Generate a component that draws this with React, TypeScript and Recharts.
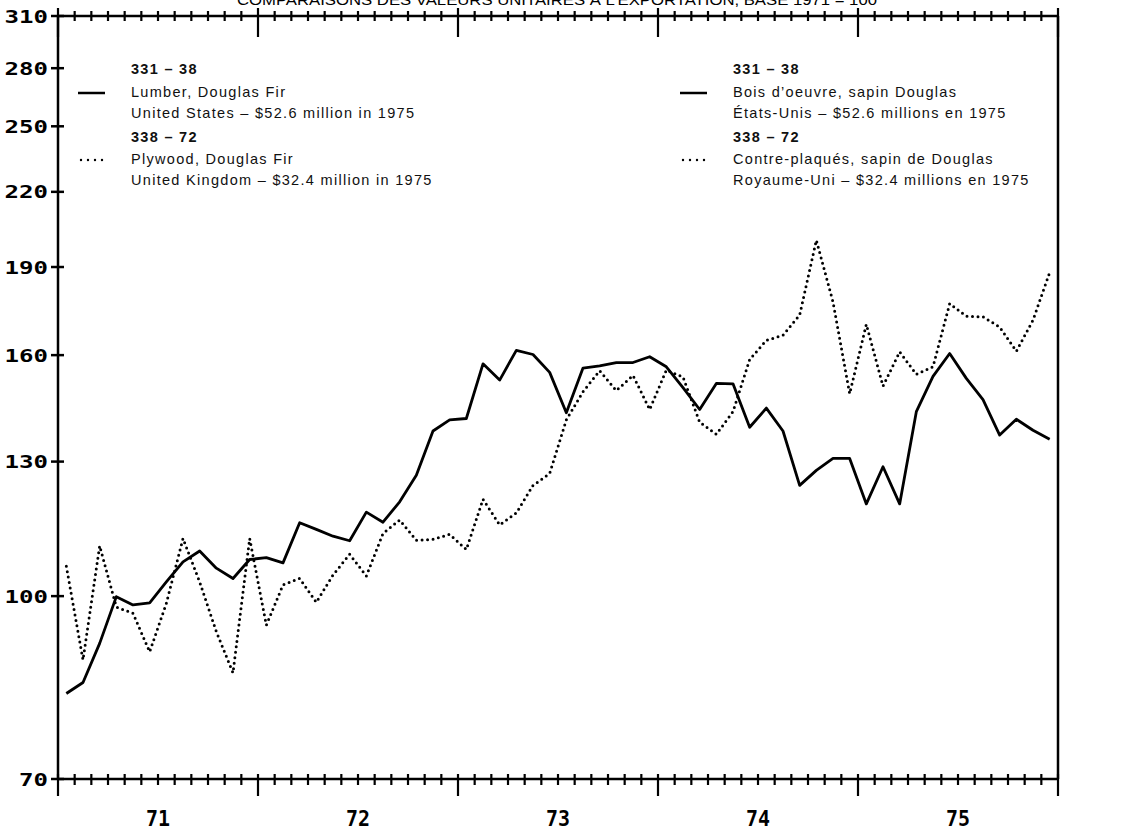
import { LineChart, Line, XAxis, YAxis } from 'recharts';

// monthly export unit values, index 1971 = 100 (Jan 1971 .. Dec 1975)
const lumber = [
  82.7, 84.5, 91.2, 99.9, 98.3, 98.7, 102.8, 106.9, 109.2, 105.6,
  103.5, 107.4, 107.8, 106.7, 115.4, 113.9, 112.4, 111.4, 117.8, 115.5,
  120.2, 126.6, 138.0, 141.0, 141.4, 157.3, 152.4, 161.5, 160.2, 154.7,
  143.0, 156.0, 156.7, 157.7, 157.7, 159.5, 156.4, 150.2, 143.9, 151.4,
  151.3, 139.0, 144.3, 138.0, 124.1, 127.8, 130.8, 130.8, 119.7, 128.7,
  119.7, 143.3, 153.5, 160.5, 152.9, 146.7, 136.9, 141.2, 138.2, 135.8,
];

const plywood = [
  106.0, 88.3, 110.3, 97.9, 96.7, 89.7, 98.6, 111.9, 102.8, 93.3,
  86.1, 111.9, 94.5, 102.2, 103.5, 98.8, 104.2, 108.5, 104.0, 113.0,
  116.0, 111.5, 111.7, 112.8, 109.5, 120.8, 114.9, 117.6, 124.1, 127.0,
  141.0, 149.0, 155.2, 149.3, 153.8, 143.9, 155.4, 153.3, 140.4, 137.1,
  143.3, 158.6, 164.7, 166.3, 173.0, 200.2, 177.5, 148.4, 169.9, 150.6,
  161.0, 154.1, 156.4, 176.9, 172.6, 172.4, 169.0, 161.2, 171.3, 188.0,
];

const yearLabels = ['71', '72', '73', '74', '75'];
const valueTicks = [70, 100, 130, 160, 190, 220, 250, 280, 310];
const monthTicks = Array.from({ length: 61 }, (_, i) => i);

// points sit in the middle of each month
const data = lumber.map((v, i) => ({ month: i + 0.5, lumber: v, plywood: plywood[i] }));

const AXIS_FONT = '"DejaVu Sans Mono", monospace';
const TEXT_FONT = '"Liberation Sans", Arial, sans-serif';
const INK = '#000';

const LeftTick = ({ x, y, payload }: any) => {
  const label = String(payload.value);
  return (
    <g>
      <line x1={x - 7} x2={x + 6} y1={y} y2={y} stroke={INK} strokeWidth={2.5} />
      <text
        x={x - 10}
        y={y + 6.5}
        textAnchor="end"
        fontFamily={AXIS_FONT}
        fontWeight="bold"
        fontSize={18}
        textLength={label.length * 14.5}
        lengthAdjust="spacingAndGlyphs"
        fill={INK}
      >
        {label}
      </text>
    </g>
  );
};

const RightTick = ({ x, y, payload }: any) => {
  const label = String(payload.value);
  return (
    <g>
      <line x1={x - 6} x2={x + 7} y1={y} y2={y} stroke={INK} strokeWidth={2.5} />
      <text
        x={x + 22}
        y={y + 6.5}
        textAnchor="start"
        fontFamily={AXIS_FONT}
        fontWeight="bold"
        fontSize={18}
        textLength={label.length * 14}
        lengthAdjust="spacingAndGlyphs"
        fill={INK}
      >
        {label}
      </text>
    </g>
  );
};

const BottomTick = ({ x, y, payload }: any) => {
  const m = payload.value as number;
  const major = m % 12 === 0;
  const year = m % 12 === 6 ? yearLabels[(m - 6) / 12] : null;
  return (
    <g>
      <line x1={x} x2={x} y1={y - 5} y2={y + (major ? 17 : 6)} stroke={INK} strokeWidth={2.2} />
      {year && (
        <text
          x={x}
          y={y + 47}
          textAnchor="middle"
          fontFamily={AXIS_FONT}
          fontWeight="bold"
          fontSize={21}
          textLength={24}
          lengthAdjust="spacingAndGlyphs"
          fill={INK}
        >
          {year}
        </text>
      )}
    </g>
  );
};

const TopTick = ({ x, y, payload }: any) => {
  const m = payload.value as number;
  const major = m % 12 === 0;
  return <line x1={x} x2={x} y1={y - (major ? 8 : 5)} y2={y + (major ? 21 : 5)} stroke={INK} strokeWidth={2.2} />;
};

const legendLeft = [
  { text: '331 – 38', bold: true, y: 69 },
  { text: 'Lumber, Douglas Fir', bold: false, y: 92 },
  { text: 'United States – $52.6 million in 1975', bold: false, y: 113 },
  { text: '338 – 72', bold: true, y: 137 },
  { text: 'Plywood, Douglas Fir', bold: false, y: 159 },
  { text: 'United Kingdom – $32.4 million in 1975', bold: false, y: 180 },
];

const legendRight = [
  { text: '331 – 38', bold: true, y: 69 },
  { text: 'Bois d’oeuvre, sapin Douglas', bold: false, y: 92 },
  { text: 'États-Unis – $52.6 millions en 1975', bold: false, y: 113 },
  { text: '338 – 72', bold: true, y: 137 },
  { text: 'Contre-plaqués, sapin de Douglas', bold: false, y: 159 },
  { text: 'Royaume-Uni – $32.4 millions en 1975', bold: false, y: 180 },
];

const LegendBlock = ({ x, rows }: { x: number; rows: typeof legendLeft }) => (
  <g>
    <line x1={x - 53} x2={x - 26} y1={93} y2={93} stroke={INK} strokeWidth={2.5} />
    <line
      x1={x - 50}
      x2={x - 26}
      y1={160}
      y2={160}
      stroke={INK}
      strokeWidth={2.4}
      strokeDasharray="0 7"
      strokeLinecap="round"
    />
    {rows.map((r) => (
      <text
        key={r.text}
        x={x}
        y={r.y + 5}
        fontFamily={TEXT_FONT}
        fontSize={14.5}
        fontWeight={r.bold ? 'bold' : 'normal'}
        letterSpacing={1.3}
        fill="#111"
      >
        {r.text}
      </text>
    ))}
  </g>
);

export default function App() {
  return (
    <div style={{ position: 'absolute', left: 0, top: 0, width: 1132, height: 834, background: '#fff' }}>
      <LineChart width={1132} height={834} data={data} margin={{ top: 0, right: 0, bottom: 0, left: 0 }}>
        <XAxis
          xAxisId="bottom"
          dataKey="month"
          type="number"
          domain={[0, 60]}
          ticks={monthTicks}
          interval={0}
          height={55}
          tickSize={0}
          tickMargin={0}
          tickLine={false}
          axisLine={{ stroke: INK, strokeWidth: 2.5 }}
          tick={<BottomTick />}
        />
        <XAxis
          xAxisId="top"
          orientation="top"
          dataKey="month"
          type="number"
          domain={[0, 60]}
          ticks={monthTicks}
          interval={0}
          height={16}
          tickSize={0}
          tickMargin={0}
          tickLine={false}
          axisLine={{ stroke: INK, strokeWidth: 2.5 }}
          tick={<TopTick />}
        />
        <YAxis
          yAxisId="left"
          type="number"
          scale="log"
          domain={[70, 310]}
          ticks={valueTicks}
          interval={0}
          width={58}
          tickSize={0}
          tickMargin={0}
          tickLine={false}
          axisLine={{ stroke: INK, strokeWidth: 2.5 }}
          tick={<LeftTick />}
        />
        <YAxis
          yAxisId="right"
          orientation="right"
          type="number"
          scale="log"
          domain={[70, 310]}
          ticks={valueTicks}
          interval={0}
          width={74}
          tickSize={0}
          tickMargin={0}
          tickLine={false}
          axisLine={{ stroke: INK, strokeWidth: 2.5 }}
          tick={<RightTick />}
        />
        <Line
          xAxisId="bottom"
          yAxisId="left"
          type="linear"
          dataKey="lumber"
          stroke={INK}
          strokeWidth={2.8}
          strokeLinejoin="round"
          dot={false}
          activeDot={false}
          isAnimationActive={false}
        />
        <Line
          xAxisId="bottom"
          yAxisId="left"
          type="linear"
          dataKey="plywood"
          stroke={INK}
          strokeWidth={3}
          strokeDasharray="0 5.5"
          strokeLinecap="round"
          dot={false}
          activeDot={false}
          isAnimationActive={false}
        />
      </LineChart>
      <svg
        width={1132}
        height={834}
        style={{ position: 'absolute', left: 0, top: 0, pointerEvents: 'none' }}
      >
        <text
          x={557}
          y={5}
          textAnchor="middle"
          fontFamily={TEXT_FONT}
          fontSize={14}
          textLength={640}
          lengthAdjust="spacingAndGlyphs"
          fill={INK}
        >
          COMPARAISONS DES VALEURS UNITAIRES À L’EXPORTATION, BASE 1971 = 100
        </text>
        <LegendBlock x={131} rows={legendLeft} />
        <LegendBlock x={733} rows={legendRight} />
      </svg>
    </div>
  );
}
